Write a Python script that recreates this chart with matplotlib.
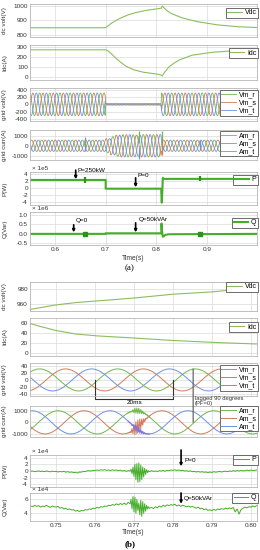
import numpy as np
import matplotlib.pyplot as plt
from matplotlib.patches import ConnectionPatch

plt.rcParams['font.family'] = ['Liberation Sans', 'DejaVu Sans']
plt.rcParams['axes.unicode_minus'] = False

# ---------------- data ----------------
# one 50 Hz cycle sampled 24 times (peak = 1), read as a plain sine
cycle = [1.0, 0.966, 0.866, 0.707, 0.5, 0.259, 0.0, -0.259, -0.5, -0.707, -0.866, -0.966,
         -1.0, -0.966, -0.866, -0.707, -0.5, -0.259, 0.0, 0.259, 0.5, 0.707, 0.866, 0.966]
dt_cycle = 0.02 / 24

# (a) dc side
vdc_a_t = [0.55, 0.70, 0.705, 0.71, 0.72, 0.73, 0.745, 0.76, 0.78, 0.80, 0.8095, 0.8115,
           0.815, 0.82, 0.83, 0.85, 0.88, 0.92, 0.96, 1.0]
vdc_a_v = [848, 848, 862, 876, 898, 916, 938, 953, 968, 978, 983, 998,
           985, 968, 945, 917, 890, 868, 855, 849]
idc_a_t = [0.55, 0.70, 0.705, 0.71, 0.72, 0.73, 0.74, 0.755, 0.775, 0.80, 0.808, 0.8115,
           0.815, 0.825, 0.835, 0.845, 0.87, 0.91, 0.95, 1.0]
idc_a_v = [272, 272, 260, 238, 188, 145, 108, 72, 47, 30, 22, 10,
           40, 103, 140, 170, 218, 247, 262, 270]

# (a) grid waveforms: peak value of every half cycle from 0.55 s
vm_a_half = [310] * 15 + [22] * 11 + [310] * 19
am_a_half = [560] * 15 + [700, 900, 1050, 1100, 1100, 1080, 1050, 1100, 1100, 1100, 1100] + [560] * 19
am_a_spk_t = [0.659, 0.659, 0.765, 0.766, 0.810, 0.811, 0.885]
am_a_spk_lo = [-500, 0, 300, -1300, 200, -900, -400]
am_a_spk_hi = [900, 500, 1450, -300, 1500, 600, 600]

# (a) powers (P in 1e5 W, Q in 1e6 VAr)
p_a_t = [0.55, 0.70, 0.70, 0.8095, 0.8095, 0.8105, 0.8115, 0.8125, 0.8135, 1.0]
p_a_v = [2.3, 2.3, -0.2, -0.2, -1.0, -4.2, -1.0, 2.9, 2.6, 2.6]
p_a_blip_t = [0.659, 0.885]
q_a_t = [0.55, 0.70, 0.70, 0.8095, 0.8100, 0.8110, 0.8125, 0.8145, 0.8180, 0.825, 1.0]
q_a_v = [0.0, 0.0, 0.03, 0.03, 0.55, 0.15, -0.15, -0.12, -0.05, -0.02, 0.0]
q_a_blip_t = [0.659, 0.885]

# (b) dc side
vdc_b_t = [0.7433, 0.75, 0.755, 0.76, 0.77, 0.78, 0.79, 0.797, 0.8016]
vdc_b_v = [953, 959, 962, 964, 968, 973, 976, 979.5, 980]
idc_b_t = [0.7433, 0.746, 0.75, 0.755, 0.761, 0.77, 0.78, 0.791, 0.8016]
idc_b_v = [59, 53, 45, 38, 34, 30, 25, 21, 18]

# (b) grid waveforms
vm_b_t0 = 0.7258          # Vm_r peak one cycle before 0.7458
vm_b_half = [31] * 8
am_b_t0 = 0.7305          # Am_r peak one cycle before 0.7505
am_b_half = [1000] * 8
am_b_tr_t0 = 0.7685       # switching transient, 0.25 ms steps
am_b_tr_r = [809, 853, 891, 964, 871, 1092, 828, 1197, 780, 1237, 748, 1192,
             751, 1104, 741, 973, 719, 820, 667, 669, 578, 523, 454]
am_b_tr_s = [-914, -879, -839, -893, -543, -988, -229, -1046, 50, -991, 202, -804,
             272, -551, 298, -254, 305, 52, 339, 294, 427, 477, 545]
am_b_tr_t = [105, 26, -52, -91, -288, -164, -519, -231, -720, -326, -870, -468,
             -943, -613, -989, -759, -1004, -882, -1006, -963, -1005, -1000, -999]

# (b) powers in 1e4 units: before (0.5 ms), transient (0.25 ms), after (0.5 ms)
p_b_1 = [-0.1, 0.0, -0.2, -0.1, 0.05, -0.15, -0.05, -0.2, 0.0, -0.1, -0.25, -0.05, -0.15,
         -0.1, -0.3, -0.15, -0.25, -0.1, -0.35, -0.2, -0.4, -0.3, -0.5,
         -0.45, -0.6, -0.3, -0.35, -0.1, -0.15, 0.05, 0.1, 0.0, 0.2,
         0.15, 0.3, 0.2, 0.35, 0.25, 0.4, 0.2, 0.3, 0.15, 0.35,
         0.2, 0.3, 0.1, 0.25, 0.0, 0.15, -0.1, 0.1, 0.0]
p_b_tr = [0.5, -0.8, 1.2, -1.6, 2.0, -2.6, 2.2, -3.4, 2.4, -3.2, 1.8, -2.6, 1.2, -1.8,
          0.8, -1.0, 0.4, -0.5, 0.1]
p_b_2 = [-0.2, 0.1, -0.1, 0.0, -0.15, 0.1, 0.0, 0.15, -0.05, 0.2,
         0.1, 0.3, 0.2, 0.35, 0.15, 0.3, 0.1, 0.2, 0.0, 0.1,
         -0.1, 0.05, -0.2, -0.1, -0.3, -0.15, -0.35, -0.2, -0.4, -0.3,
         -0.5, -0.3, -0.45, -0.2, -0.35, -0.25, -0.1, -0.3, -0.15, -0.05,
         -0.2, 0.0, -0.1, 0.1, -0.05, 0.15, 0.0, 0.2, 0.05, 0.1,
         0.25, 0.1, 0.3, 0.15, 0.2, 0.3]
q_b_1 = [5.0, 4.9, 5.1, 4.95, 5.05, 4.85, 5.0, 4.9, 5.1, 4.95, 4.8, 5.0, 4.9,
         4.85, 4.95, 4.7, 4.8, 4.6, 4.7, 4.5, 4.6, 4.45, 4.5,
         4.3, 4.4, 4.25, 4.4, 4.35, 4.5, 4.45, 4.6, 4.55, 4.7,
         4.65, 4.8, 4.75, 4.9, 4.85, 5.0, 4.95, 5.1, 5.05, 5.2,
         5.1, 5.3, 5.15, 5.35, 5.2, 5.4, 5.2, 5.5, 5.3]
q_b_tr = [5.9, 4.6, 6.3, 4.2, 6.2, 4.0, 5.9, 4.4, 5.4, 3.8, 5.8, 3.6, 5.6, 4.0,
          5.3, 4.3, 5.1, 4.6, 4.9]
q_b_2 = [4.7, 4.8, 4.65, 4.9, 4.75, 5.0, 4.85, 5.1, 4.95, 5.15,
         5.05, 5.2, 5.1, 5.25, 5.0, 5.15, 4.95, 5.1, 5.0, 4.9,
         5.0, 4.85, 4.95, 4.8, 4.7, 4.85, 4.6, 4.7, 4.5, 4.6,
         4.4, 4.5, 4.35, 4.55, 4.4, 4.6, 4.5, 4.65, 4.55, 4.7,
         4.6, 4.75, 4.65, 4.8, 4.2, 4.6, 3.9, 4.5, 4.7, 4.85,
         4.75, 4.9, 4.85, 5.0, 4.9, 5.05]
pq_b_t1, pq_b_ttr, pq_b_t2 = 0.7435, 0.76925, 0.7740

# ---------------- styling ----------------
c_dc = '#8cbd5e'
c_g, c_r, c_b = '#6fb84a', '#d07b5c', '#6f90e6'
c_pq = '#45ad2a'
W, H = 260, 550
arrow = dict(arrowstyle='-|>', color='black', lw=1.2, mutation_scale=3.5, shrinkA=0, shrinkB=0)


def wave(half, shift):
    tile = np.tile(np.roll(cycle, shift), len(half) // 2 + 1)[:len(half) * 12]
    return np.repeat(half, 12) * tile


def new_ax(top, bot):
    return fig.add_axes([30 / W, 1 - bot / H, 227 / W, (bot - top) / H])


def style(ax, xlim, ylim, yticks, ylabel, xticks, xlabels=None):
    ax.set_xlim(xlim)
    ax.set_ylim(ylim)
    ax.set_yticks(yticks)
    ax.set_xticks(xticks)
    ax.grid(True, color='#dadada', lw=0.5)
    ax.set_axisbelow(True)
    ax.tick_params(length=0, labelsize=4.6, colors='#333333', pad=1.5)
    for s in ax.spines.values():
        s.set_color('#b5b5b5')
        s.set_linewidth(0.6)
    ax.set_ylabel(ylabel, fontsize=4.6, color='#333333')
    ax.yaxis.set_label_coords(-0.1, 0.5)
    if xlabels is None:
        ax.tick_params(labelbottom=False)
    else:
        ax.set_xticklabels(xlabels)


def leg(ax, ytop):
    lg = ax.legend(loc='upper right', bbox_to_anchor=(1.004, ytop), fontsize=5.0,
                   frameon=True, fancybox=False, edgecolor='#555555', framealpha=1,
                   borderpad=0.2, labelspacing=0.12, handlelength=2.1,
                   handletextpad=0.4, borderaxespad=0)
    lg.get_frame().set_linewidth(0.6)


def offset_label(ax, txt):
    ax.text(0.01, 1.03, txt, transform=ax.transAxes, fontsize=4.6, color='#333333',
            va='bottom', ha='left')


fig = plt.figure(figsize=(2.6, 5.5), dpi=100)

xa = (0.551, 0.998)
xa_t = [0.6, 0.7, 0.8, 0.9]
xb = (0.7433, 0.8016)
xb_t = [0.75, 0.76, 0.77, 0.78, 0.79, 0.80]

# ---------------- (a) ----------------
ax = new_ax(4, 37)
ax.plot(vdc_a_t, vdc_a_v, color=c_dc, lw=0.8, label='Vdc')
style(ax, xa, (784, 1012), [800, 900, 1000], 'dc volt(V)', xa_t)
leg(ax, 0.88)

ax = new_ax(45, 80)
ax.plot(idc_a_t, idc_a_v, color=c_dc, lw=0.8, label='Idc')
style(ax, xa, (-30, 320), [0, 100, 200, 300], 'Idc(A)', xa_t)
leg(ax, 0.91)

t_a = 0.55 + np.arange(len(vm_a_half) * 12) * dt_cycle
ax = new_ax(88, 121)
ax.plot(t_a, wave(vm_a_half, 0), color=c_g, lw=0.6, label='Vm_r')
ax.plot(t_a, wave(vm_a_half, 8), color=c_r, lw=0.6, label='Vm_s')
ax.plot(t_a, wave(vm_a_half, 16), color=c_b, lw=0.6, label='Vm_t')
style(ax, xa, (-455, 446), [-400, -200, 0, 200, 400], 'grid volt(V)', xa_t)
leg(ax, 0.93)

ax = new_ax(130, 160)
ax.plot(t_a, wave(am_a_half, 5), color=c_g, lw=0.6, label='Am_r')
ax.plot(t_a, wave(am_a_half, 13), color=c_r, lw=0.6, label='Am_s')
ax.plot(t_a, wave(am_a_half, 21), color=c_b, lw=0.6, label='Am_t')
spk_c = [c_b, c_g, c_g, c_b, c_g, c_r, c_b]
ax.vlines(am_a_spk_t, am_a_spk_lo, am_a_spk_hi, colors=spk_c, lw=0.9)
style(ax, xa, (-1400, 1550), [-1000, 0, 1000], 'grid curr(A)', xa_t)
leg(ax, 0.97)

ax = new_ax(172, 205)
ax.plot(p_a_t, p_a_v, color=c_pq, lw=1.5, label='P')
ax.vlines(p_a_blip_t, [1.5, 1.9], [3.1, 3.3], colors='#2f8f1d', lw=1.6)
ax.annotate('', xy=(0.641, 2.5), xytext=(0.641, 5.1), arrowprops=arrow,
            annotation_clip=False)
ax.text(0.645, 5.0, 'P=250kW', fontsize=4.6, va='center', ha='left')
ax.annotate('', xy=(0.759, 0.2), xytext=(0.759, 2.9), arrowprops=arrow)
ax.text(0.763, 3.6, 'P=0', fontsize=4.6, va='center', ha='left')
style(ax, xa, (-4.86, 4.57), [-4, -2, 0, 2, 4], 'P(W)', xa_t)
offset_label(ax, '× 1e5')
leg(ax, 0.91)

ax = new_ax(212, 245)
ax.plot(q_a_t, q_a_v, color=c_pq, lw=1.5, label='Q')
ax.plot(q_a_blip_t, [0.0, 0.0], 's', color='#2f8f1d', ms=2.2)
ax.annotate('', xy=(0.637, 0.08), xytext=(0.637, 0.48), arrowprops=arrow)
ax.text(0.642, 0.70, 'Q=0', fontsize=4.6, va='center', ha='left')
ax.annotate('', xy=(0.759, 0.08), xytext=(0.759, 0.58), arrowprops=arrow)
ax.text(0.765, 0.74, 'Q=50kVAr', fontsize=4.6, va='center', ha='left')
style(ax, xa, (-0.59, 1.16), [-0.5, 0.0, 0.5, 1.0], 'Q(Var)', xa_t,
      ['0.6', '0.7', '0.8', '0.9'])
ax.set_yticklabels(['-0.5', '0.0', '0.5', '1.0'])
offset_label(ax, '× 1e6')
leg(ax, 0.82)

fig.text(133 / W, 1 - 258 / H, 'Time(s)', fontsize=4.8, ha='center', va='center', color='#333333')
fig.text(130 / W, 1 - 268 / H, '(a)', fontsize=6.5, ha='center', va='center', family='Liberation Serif')

# ---------------- (b) ----------------
ax = new_ax(282, 311)
ax.plot(vdc_b_t, vdc_b_v, color=c_dc, lw=0.8, label='Vdc')
style(ax, xb, (951, 989), [960, 980], 'dc volt(V)', xb_t)
leg(ax, 1.0)

ax = new_ax(318, 356)
ax.plot(idc_b_t, idc_b_v, color=c_dc, lw=0.8, label='Idc')
style(ax, xb, (-6, 70), [0, 20, 40, 60], 'Idc(A)', xb_t)
leg(ax, 0.89)

t_vb = vm_b_t0 + np.arange(len(vm_b_half) * 12) * dt_cycle
ax_vm = new_ax(363, 396)
ax_vm.plot(t_vb, wave(vm_b_half, 0), color=c_g, lw=0.7, label='Vm_r')
ax_vm.plot(t_vb, wave(vm_b_half, 8), color=c_r, lw=0.7, label='Vm_s')
ax_vm.plot(t_vb, wave(vm_b_half, 16), color=c_b, lw=0.7, label='Vm_t')
style(ax_vm, xb, (-45, 47.5), [-40, -20, 0, 20, 40], 'grid volt(V)', xb_t)
leg(ax_vm, 0.93)
bracket_t = [0.7601, 0.7801]
ax_vm.plot([bracket_t[0], bracket_t[0], bracket_t[1], bracket_t[1]], [0, -53, -53, 0],
           color='#333333', lw=0.8, clip_on=False)
ax_vm.text(sum(bracket_t) / 2, -56, '20ms', fontsize=4.6, ha='center', va='top')
lag_t = 0.7852
ax_vm.text(lag_t + 0.0004, -46, 'lagged 90 degrees\n(PF=0)', fontsize=4.2, ha='left',
           va='top', linespacing=1.0, color='#333333')
ax_vm.set_zorder(3)

t_ab = am_b_t0 + np.arange(len(am_b_half) * 12) * dt_cycle
t_tr = am_b_tr_t0 + np.arange(len(am_b_tr_r)) * 0.00025
ax_am = new_ax(406, 437)
ax_am.plot(t_ab, wave(am_b_half, 0), color=c_g, lw=0.7, label='Am_r')
ax_am.plot(t_ab, wave(am_b_half, 8), color=c_r, lw=0.7, label='Am_s')
ax_am.plot(t_ab, wave(am_b_half, 16), color=c_b, lw=0.7, label='Am_t')
ax_am.plot(t_tr, am_b_tr_r, color=c_g, lw=0.7)
ax_am.plot(t_tr, am_b_tr_s, color=c_r, lw=0.7)
ax_am.plot(t_tr, am_b_tr_t, color='#7f6fe0', lw=0.7)
style(ax_am, xb, (-1260, 1400), [-1000, 0, 1000], 'grid curr(A)', xb_t)
leg(ax_am, 1.0)
fig.add_artist(ConnectionPatch(xyA=(lag_t, 31), coordsA=ax_vm.transData,
                               xyB=(lag_t, 0), coordsB=ax_am.transData,
                               color='#555555', lw=0.8, zorder=5))

t_p1 = pq_b_t1 + np.arange(len(p_b_1)) * 0.0005
t_ptr = pq_b_ttr + np.arange(len(p_b_tr)) * 0.00025
t_p2 = pq_b_t2 + np.arange(len(p_b_2)) * 0.0005
ax = new_ax(455, 487)
ax.plot(np.concatenate([t_p1, t_ptr, t_p2]), p_b_1 + p_b_tr + p_b_2, color=c_pq, lw=0.7,
        label='P')
ax.annotate('', xy=(0.7821, 1.4), xytext=(0.7821, 6.3), arrowprops=arrow,
            annotation_clip=False)
ax.text(0.7829, 3.0, 'P=0', fontsize=4.6, va='center', ha='left')
style(ax, xb, (-4.8, 4.8), [-4, -2, 0, 2, 4], 'P(W)', xb_t)
offset_label(ax, '× 1e4')
leg(ax, 1.0)

ax = new_ax(493, 521)
ax.plot(np.concatenate([t_p1, t_ptr, t_p2]), q_b_1 + q_b_tr + q_b_2, color=c_pq, lw=0.7,
        label='Q')
ax.annotate('', xy=(0.7821, 5.3), xytext=(0.7821, 6.78), arrowprops=arrow,
            annotation_clip=False)
ax.text(0.7829, 6.0, 'Q=50kVAr', fontsize=4.6, va='center', ha='left')
style(ax, xb, (2.95, 6.78), [4, 6], 'Q(Var)', xb_t,
      ['0.75', '0.76', '0.77', '0.78', '0.79', '0.80'])
offset_label(ax, '× 1e4')
leg(ax, 1.0)

fig.text(133 / W, 1 - 533 / H, 'Time(s)', fontsize=4.8, ha='center', va='center', color='#333333')
fig.text(130 / W, 1 - 544 / H, '(b)', fontsize=6.5, ha='center', va='center',
         family='Liberation Serif', weight='bold')

fig.savefig('out.png', dpi=100)
